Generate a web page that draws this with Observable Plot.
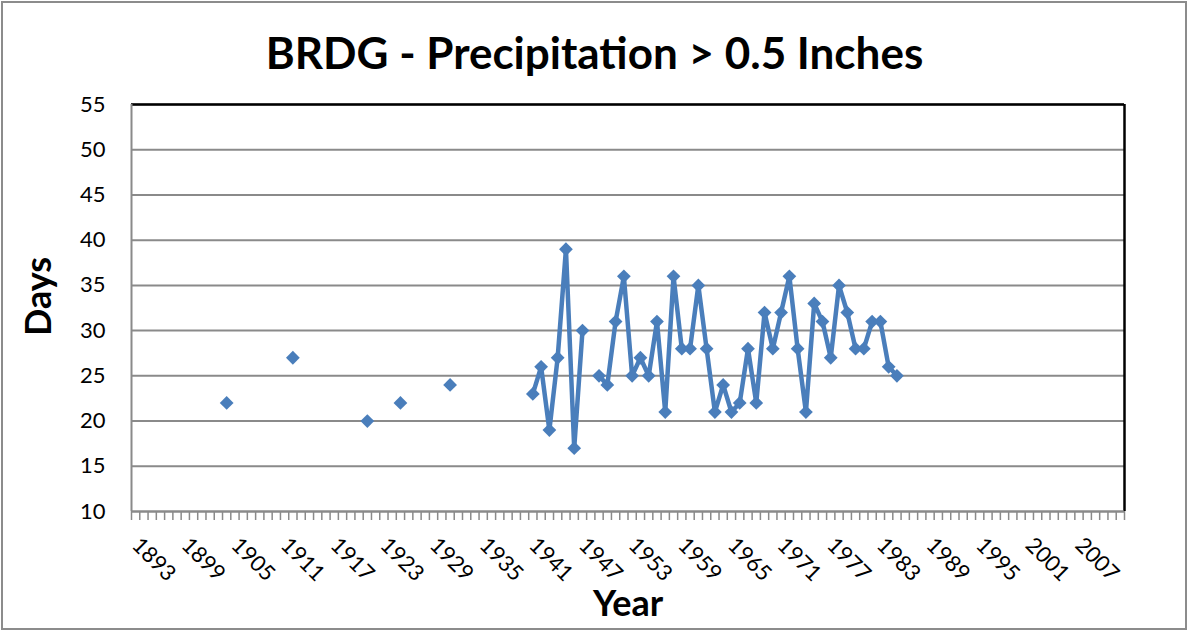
<!DOCTYPE html>
<html>
<head>
<meta charset="utf-8">
<script src="https://cdn.jsdelivr.net/npm/d3@7"></script>
<script src="https://cdn.jsdelivr.net/npm/@observablehq/plot@0.6"></script>
<style>
  html, body { margin: 0; padding: 0; background: #fff; }
  #chart svg { display: block; outline: 2px solid #8c8c8c; outline-offset: -3px; }
</style>
</head>
<body>
<div id="chart"></div>
<script>
// ---- Data ----
const title = "BRDG - Precipitation > 0.5 Inches";
const xTitle = "Year";
const yTitle = "Days";
const years = [1904, 1912, 1921, 1925, 1931,
  1941, 1942, 1943, 1944, 1945, 1946, 1947,
  1949, 1950, 1951, 1952, 1953, 1954, 1955, 1956, 1957, 1958, 1959, 1960,
  1961, 1962, 1963, 1964, 1965, 1966, 1967, 1968, 1969, 1970, 1971, 1972,
  1973, 1974, 1975, 1976, 1977, 1978, 1979, 1980, 1981, 1982, 1983, 1984, 1985];
const days = [22, 27, 20, 22, 24,
  23, 26, 19, 27, 39, 17, 30,
  25, 24, 31, 36, 25, 27, 25, 31, 21, 36, 28, 28,
  35, 28, 21, 24, 21, 22, 28, 22, 32, 28, 32, 36,
  28, 21, 33, 31, 27, 35, 32, 28, 28, 31, 31, 26, 25];
const firstCategory = 1893;
const lastCategory = 2012;
const xTickLabels = [1893, 1899, 1905, 1911, 1917, 1923, 1929, 1935, 1941, 1947, 1953, 1959, 1965, 1971, 1977, 1983, 1989, 1995, 2001, 2007];
const yTicks = [10, 15, 20, 25, 30, 35, 40, 45, 50, 55];

// ---- Derived tables ----
const points = years.map((year, i) => ({year, value: days[i]}));
const byYear = new Map(points.map(d => [d.year, d.value]));
// full yearly series so that missing years break the line (as Excel does)
const series = d3.range(years[0], years[years.length - 1] + 1)
  .map(year => ({year, value: byYear.has(year) ? byYear.get(year) : null}));
// category boundaries (tick marks sit between categories)
const boundaries = d3.range(firstCategory - 0.5, lastCategory + 1, 1);

const blue = "#4A7EBB";
const gray = "#8a8a8a";
const font = "Lato, 'Open Sans', sans-serif";

const chart = Plot.plot({
  width: 1188,
  height: 631,
  marginLeft: 131,
  marginRight: 64,
  marginTop: 104,
  marginBottom: 120,
  style: {fontFamily: font, color: "#000", background: "#fff", overflow: "visible"},
  x: {domain: [firstCategory - 0.5, lastCategory + 0.5]},
  y: {domain: [yTicks[0], yTicks[yTicks.length - 1]]},
  marks: [
    Plot.gridY(yTicks, {stroke: gray, strokeOpacity: 1, strokeWidth: 2}),
    Plot.ruleX([lastCategory + 0.5], {stroke: "#000", strokeWidth: 2.5}),
    Plot.ruleY([yTicks[yTicks.length - 1]], {stroke: "#000", strokeWidth: 2.5}),
    Plot.ruleX([firstCategory - 0.5], {stroke: gray, strokeWidth: 2}),
    Plot.ruleY([yTicks[0]], {stroke: gray, strokeWidth: 2}),
    Plot.axisX(boundaries, {tickSize: 9, tickFormat: () => "", stroke: gray, strokeWidth: 1.5, label: null}),
    Plot.axisX(xTickLabels, {
      tickSize: 0, tickPadding: 30, tickRotate: 45, textAnchor: "start", lineAnchor: "middle",
      tickFormat: d => String(d), fontSize: 22, label: null
    }),
    Plot.axisY(yTicks, {tickSize: 0, tickPadding: 26, tickFormat: d => String(d), fontSize: 22, label: null}),
    Plot.line(series, {x: "year", y: "value", stroke: blue, strokeWidth: 4.5, curve: "linear"}),
    Plot.dot(points, {x: "year", y: "value", symbol: "diamond2", r: 6.2, fill: blue, stroke: "none"}),
    Plot.text([title], {frameAnchor: "top", dx: -33.5, dy: -50, fontSize: 44, fontWeight: "bold", lineAnchor: "middle"}),
    Plot.text([xTitle], {frameAnchor: "bottom", dy: 93, fontSize: 36, fontWeight: "bold", lineAnchor: "middle"}),
    Plot.text([yTitle], {frameAnchor: "left", dx: -92, dy: 28, rotate: -90, fontSize: 36, fontWeight: "bold", lineAnchor: "middle"})
  ]
});
document.getElementById("chart").append(chart);
</script>
</body>
</html>
